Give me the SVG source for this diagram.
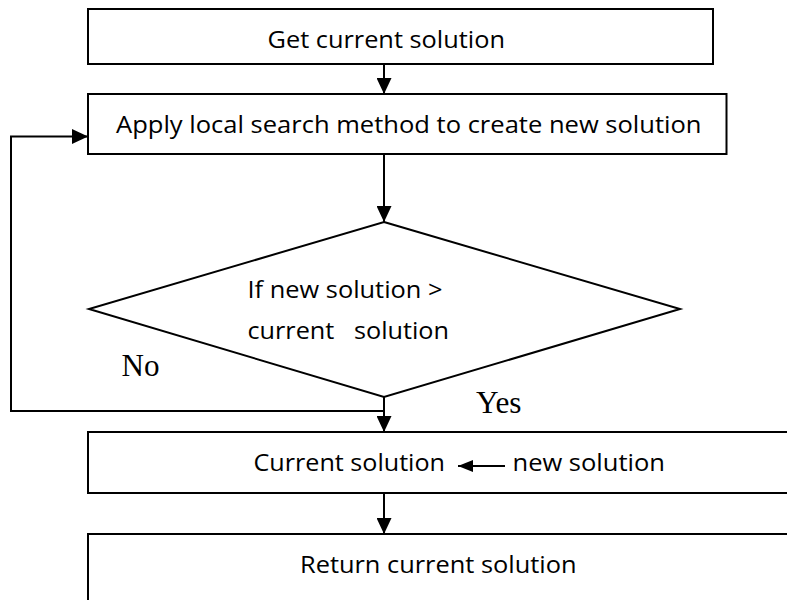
<svg xmlns="http://www.w3.org/2000/svg" width="787" height="600" viewBox="0 0 787 600">
<style>
.box{fill:#fff;stroke:#000;stroke-width:2}
.t{font-family:"Open Sans","Liberation Sans",sans-serif;font-size:23px;fill:#000}
.s{font-family:"Liberation Serif","Times New Roman",serif;font-size:31px;fill:#000}
.c{fill:none;stroke:#000;stroke-width:2}
</style>
<defs>
<marker id="ah" markerUnits="userSpaceOnUse" markerWidth="16" markerHeight="15" refX="16" refY="7.5" orient="auto">
<path d="M0,0 L16,7.5 L0,15 z" fill="#000"/>
</marker>
<marker id="ahs" markerUnits="userSpaceOnUse" markerWidth="15" markerHeight="12" refX="15" refY="6" orient="auto">
<path d="M0,0 L15,6 L0,12 z" fill="#000"/>
</marker>
</defs>
<rect width="787" height="600" fill="#fff"/>
<g id="n1">
<rect class="box" x="88" y="9" width="625" height="55"/>
<text class="t" x="267.5" y="48" textLength="237.5" lengthAdjust="spacingAndGlyphs">Get current solution</text>
</g>
<g id="n2">
<rect class="box" x="88" y="94" width="638.5" height="60"/>
<text class="t" x="116" y="133" textLength="585.5" lengthAdjust="spacingAndGlyphs">Apply local search method to create new solution</text>
</g>
<g id="n3">
<polygon class="box" points="384,222 680,309 384,397 89,309"/>
<text class="t" x="247.5" y="298" textLength="195" lengthAdjust="spacingAndGlyphs">If new solution &gt;</text>
<text class="t" x="247.5" y="339" textLength="201.5" lengthAdjust="spacingAndGlyphs" xml:space="preserve">current   solution</text>
</g>
<g id="n4">
<rect class="box" x="88" y="432" width="710" height="61"/>
<text class="t" x="253.5" y="471" textLength="191.5" lengthAdjust="spacingAndGlyphs">Current solution</text>
<line class="c" x1="505" y1="466" x2="458" y2="466" stroke-width="2.5" marker-end="url(#ahs)"/>
<text class="t" x="512.5" y="471" textLength="152.5" lengthAdjust="spacingAndGlyphs">new solution</text>
</g>
<g id="n5">
<rect class="box" x="88" y="534" width="710" height="80"/>
<text class="t" x="300" y="573" textLength="276.5" lengthAdjust="spacingAndGlyphs">Return current solution</text>
</g>
<g id="labels">
<text class="s" x="121.5" y="376" textLength="38" lengthAdjust="spacingAndGlyphs">No</text>
<text class="s" x="476" y="413" textLength="45.5" lengthAdjust="spacingAndGlyphs">Yes</text>
</g>
<g id="connectors">
<line class="c" x1="384" y1="64" x2="384" y2="94" marker-end="url(#ah)"/>
<line class="c" x1="384" y1="154" x2="384" y2="222" marker-end="url(#ah)"/>
<line class="c" x1="384" y1="397" x2="384" y2="432" marker-end="url(#ah)"/>
<line class="c" x1="384" y1="493" x2="384" y2="534" marker-end="url(#ah)"/>
<polyline class="c" points="384,411 11,411 11,136.5 88,136.5" marker-end="url(#ah)"/>
</g>
</svg>
